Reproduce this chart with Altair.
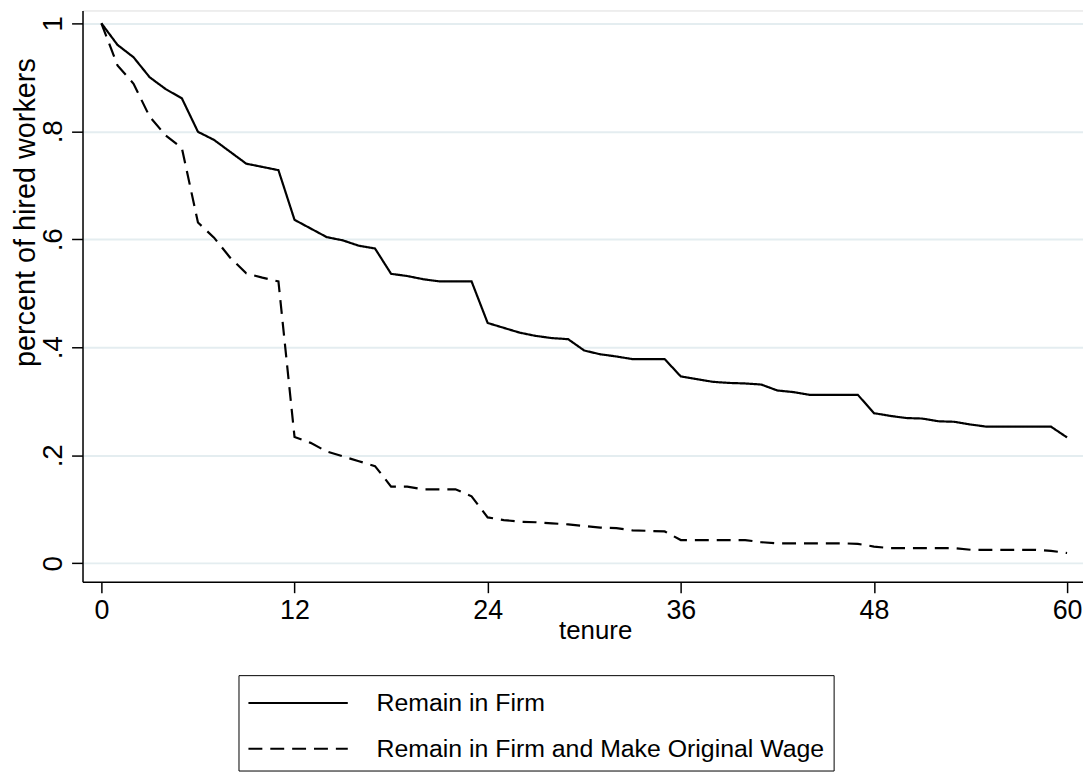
import altair as alt
import pandas as pd

tenure = list(range(61))
remain = [1.000, 0.960, 0.937, 0.900, 0.878, 0.861, 0.799, 0.784, 0.762, 0.740,
          0.734, 0.728, 0.636, 0.620, 0.604, 0.598, 0.588, 0.583, 0.536, 0.532,
          0.526, 0.522, 0.522, 0.522, 0.445, 0.436, 0.427, 0.421, 0.417, 0.415,
          0.394, 0.387, 0.383, 0.378, 0.378, 0.378, 0.346, 0.341, 0.336, 0.334,
          0.333, 0.331, 0.320, 0.317, 0.312, 0.312, 0.312, 0.312, 0.278, 0.273,
          0.269, 0.268, 0.263, 0.262, 0.257, 0.253, 0.253, 0.253, 0.253, 0.253,
          0.233]
remain_wage = [1.000, 0.922, 0.888, 0.827, 0.792, 0.769, 0.631, 0.603, 0.566, 0.537,
               0.529, 0.522, 0.234, 0.223, 0.207, 0.198, 0.189, 0.180, 0.142, 0.142,
               0.137, 0.137, 0.137, 0.124, 0.085, 0.080, 0.077, 0.076, 0.074, 0.072,
               0.069, 0.066, 0.065, 0.061, 0.060, 0.059, 0.043, 0.043, 0.043, 0.043,
               0.043, 0.039, 0.037, 0.037, 0.037, 0.037, 0.037, 0.036, 0.031, 0.028,
               0.028, 0.028, 0.028, 0.028, 0.025, 0.025, 0.025, 0.025, 0.025, 0.023,
               0.019]
series_names = ["Remain in Firm", "Remain in Firm and Make Original Wage"]
x_ticks = [0, 12, 24, 36, 48, 60]
y_ticks = [0, 0.2, 0.4, 0.6, 0.8, 1]

df = pd.concat([
    pd.DataFrame({"tenure": tenure, "value": remain, "series": series_names[0]}),
    pd.DataFrame({"tenure": tenure, "value": remain_wage, "series": series_names[1]}),
])

FONT = "Liberation Sans"

chart = alt.Chart(df).mark_line(color="black", strokeWidth=2.2).encode(
    x=alt.X("tenure:Q",
            scale=alt.Scale(domain=[-1.173, 60.99], nice=False, zero=False),
            axis=alt.Axis(values=x_ticks, title="tenure", grid=False,
                          tickSize=11, tickWidth=1.5, tickColor="black",
                          domainColor="black", domainWidth=1.5,
                          labelFontSize=27, labelPadding=5, labelColor="black",
                          labelFont=FONT, labelFlush=False,
                          titleFont=FONT, titleFontSize=26, titleFontWeight="normal",
                          titleColor="black", titleX=516, titleY=57,
                          titleAlign="center", titleBaseline="alphabetic")),
    y=alt.Y("value:Q",
            scale=alt.Scale(domain=[-0.0342, 1.0237], nice=False, zero=False),
            axis=alt.Axis(values=y_ticks, title="percent of hired workers",
                          grid=True, gridColor="#E4EDF0", gridWidth=2,
                          tickSize=11, tickWidth=1.5, tickColor="black",
                          domainColor="black", domainWidth=1.5,
                          labelFontSize=28, labelPadding=10, labelColor="black",
                          labelFont=FONT, labelAngle=270, labelAlign="center",
                          labelBaseline="alphabetic", labelFlush=False,
                          labelExpr="datum.value == 0 ? '0' : datum.value == 1 ? '1' : replace(format(datum.value, '.1f'), '0.', '.')",
                          titleFont=FONT, titleFontSize=29, titleFontWeight="normal",
                          titleColor="black", titleAngle=270, titleX=-48.8, titleY=203,
                          titleAlign="center", titleBaseline="alphabetic")),
    strokeDash=alt.StrokeDash("series:N",
                              scale=alt.Scale(domain=series_names, range=[[1, 0], [14, 8]]),
                              legend=alt.Legend(title=" ", titleFontSize=1, titlePadding=6,
                                                orient="none",
                                                legendX=157, legendY=669,
                                                symbolType="stroke", symbolSize=10000,
                                                symbolStrokeWidth=2, symbolStrokeColor="black",
                                                clipHeight=24, rowPadding=21,
                                                labelFont=FONT, labelFontSize=25,
                                                labelColor="black", labelOffset=28,
                                                labelLimit=0, padding=9,
                                                strokeColor="black", fillColor="white",
                                                symbolOffset=0)),
    order="tenure:Q",
).properties(
    width=1007,
    height=575,
    autosize=alt.AutoSizeParams(type="none"),
    padding={"left": 75, "top": 0, "right": 0, "bottom": 190},
).configure_view(stroke=None).configure(font=FONT, background="white")

chart.save("out.html", embed_options={"renderer": "svg", "actions": False})
